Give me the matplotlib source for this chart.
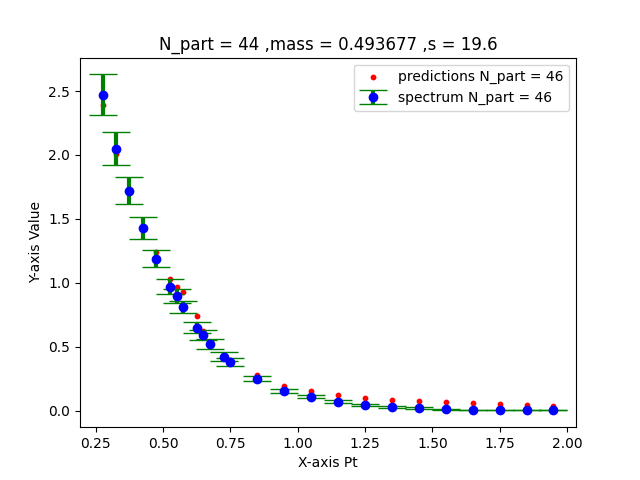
import matplotlib
matplotlib.use('Agg')
import matplotlib.pyplot as plt
import numpy as np

pt = [0.275, 0.325, 0.375, 0.425, 0.475, 0.525, 0.55, 0.575, 0.625, 0.65, 0.675,
      0.725, 0.75, 0.85, 0.95, 1.05, 1.15, 1.25, 1.35, 1.45, 1.55, 1.65, 1.75, 1.85, 1.95]
spectrum = [2.47, 2.05, 1.72, 1.43, 1.19, 0.97, 0.90, 0.81, 0.65, 0.59, 0.52,
            0.42, 0.38, 0.25, 0.155, 0.11, 0.07, 0.045, 0.03, 0.02, 0.01, 0.005, 0.005, 0.005, 0.005]
errors = [0.16, 0.13, 0.105, 0.085, 0.07, 0.06, 0.055, 0.05, 0.045, 0.04, 0.04,
          0.035, 0.03, 0.02, 0.015, 0.012, 0.01, 0.008, 0.006, 0.005, 0.004, 0.003, 0.003, 0.003, 0.003]
predictions = [2.39, 2.01, 1.72, 1.44, 1.24, 1.03, 0.97, 0.93, 0.74, 0.62, 0.53,
               0.43, 0.40, 0.28, 0.19, 0.15, 0.12, 0.10, 0.085, 0.075, 0.065, 0.06, 0.05, 0.045, 0.04]

fig, ax = plt.subplots(figsize=(6.4, 4.8), dpi=100)

ax.scatter(pt, predictions, color='red', s=10, label='predictions N_part = 46')
ax.errorbar(pt, spectrum, yerr=errors, fmt='o', color='blue', ecolor='green',
            elinewidth=3, capsize=10, markersize=6, label='spectrum N_part = 46')

ax.set_title('N_part = 44 ,mass = 0.493677 ,s = 19.6')
ax.set_xlabel('X-axis Pt')
ax.set_ylabel('Y-axis Value')
ax.legend(loc='upper right')

plt.savefig('out.png', dpi=100)
